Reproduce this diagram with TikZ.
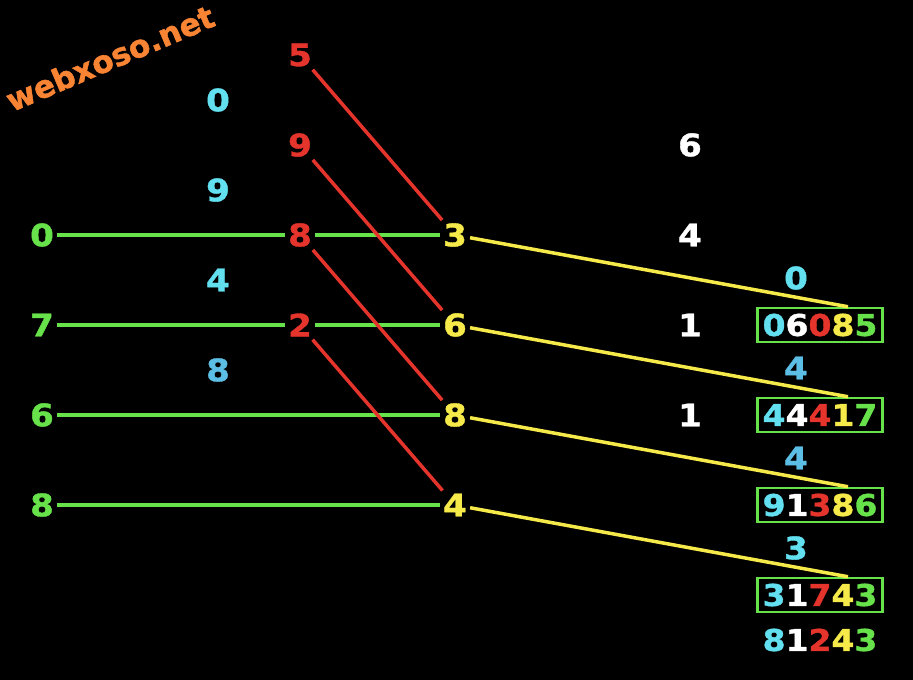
\documentclass[tikz,border=0pt]{standalone}
\usepackage{fontspec}
\usetikzlibrary{positioning}
\newfontfamily\digitfont{DejaVu Sans}[FakeStretch=1.1, BoldFeatures={FakeBold=1.2}]
\newfontfamily\markfont{DejaVu Sans}[BoldFeatures={FakeBold=1.5}]
\definecolor{digitgreen}{RGB}{104,226,74}
\definecolor{digitred}{RGB}{228,52,44}
\definecolor{digityellow}{RGB}{246,234,74}
\definecolor{digitcyan}{RGB}{98,224,240}
\definecolor{digitblue}{RGB}{92,190,228}
\definecolor{markorange}{RGB}{248,132,52}
\newcommand{\fivedigits}[5]{\textcolor{digitcyan}{#1}\textcolor{white}{#2}\textcolor{digitred}{#3}\textcolor{digityellow}{#4}\textcolor{digitgreen}{#5}}

\begin{document}
\begin{tikzpicture}[x=1pt, y=1pt, on grid, node distance=90pt,
        every node/.style={font=\digitfont\bfseries\fontsize{31}{33}\selectfont, inner sep=3pt},
        lgreen/.style={text=digitgreen}, lred/.style={text=digitred}, lyellow/.style={text=digityellow},
        lcyan/.style={text=digitcyan}, lblue/.style={text=digitblue}, lwhite/.style={text=white},
        result/.style={font=\digitfont\bfseries\fontsize{30}{32}\selectfont},
        resultbox/.style={result, draw=digitgreen, line width=2.5pt, inner xsep=5pt, minimum height=34pt},
        gline/.style={draw=digitgreen, line width=3.5pt},
        rline/.style={draw=digitred, line width=3.5pt},
        yline/.style={draw=digityellow, line width=3.5pt}]
        \useasboundingbox (0,0) rectangle (913,-680);
        \fill[black] (0,0) rectangle (913,-680);

        \node[font=\markfont\bfseries\fontsize{31}{33}\selectfont, text=markorange, rotate=23] (wm) at (110,-58) {webxoso.net};

        \node[lgreen]   (g0) at (42,-235)          {0};
        \node[lgreen]   (g7) [below of = g0]       {7};
        \node[lgreen]   (g6) [below of = g7]       {6};
        \node[lgreen]   (g8) [below of = g6]       {8};

        \node[lcyan]    (c4) at (218,-280)         {4};
        \node[lcyan]    (c9) [above of = c4]       {9};
        \node[lcyan]    (c0) [above of = c9]       {0};
        \node[lblue]    (c8) [below of = c4]       {8};

        \node[lred]     (r8) at (300,-235)         {8};
        \node[lred]     (r9) [above of = r8]       {9};
        \node[lred]     (r5) [above of = r9]       {5};
        \node[lred]     (r2) [below of = r8]       {2};

        \node[lyellow]  (y3) at (455,-235)         {3};
        \node[lyellow]  (y6) [below of = y3]       {6};
        \node[lyellow]  (y8) [below of = y6]       {8};
        \node[lyellow]  (y4) [below of = y8]       {4};

        \node[lwhite]   (w4) at (690,-235)         {4};
        \node[lwhite]   (w6) [above of = w4]       {6};
        \node[lwhite]   (w1) [below of = w4]       {1};
        \node[lwhite]   (w1b) [below of = w1]      {1};

        \node[resultbox] (b1) at (820,-325)        {\fivedigits06085};
        \node[resultbox] (b2) [below of = b1]      {\fivedigits44417};
        \node[resultbox] (b3) [below of = b2]      {\fivedigits91386};
        \node[resultbox] (b4) [below of = b3]      {\fivedigits31743};
        \node[result]    (s5) [below = 45pt of b4] {\fivedigits81243};

        \node[lcyan]    (q0) at (796,-278)         {0};
        \node[lblue]    (q4) [below of = q0]       {4};
        \node[lblue]    (q4b) [below of = q4]      {4};
        \node[lcyan]    (q3) [below of = q4b]      {3};

        \path[gline] (g0) -- (r8) (r8) -- (y3)
                     (g7) -- (r2) (r2) -- (y6)
                     (g6) -- (y8)
                     (g8) -- (y4);
        \path[rline] (r5) -- (y3)
                     (r9) -- (y6)
                     (r8) -- (y8)
                     (r2) -- (y4);
        \path[yline] (y3) -- ([xshift=28pt]b1.north)
                     (y6) -- ([xshift=28pt]b2.north)
                     (y8) -- ([xshift=28pt]b3.north)
                     (y4) -- ([xshift=28pt]b4.north);
\end{tikzpicture}
\end{document}
